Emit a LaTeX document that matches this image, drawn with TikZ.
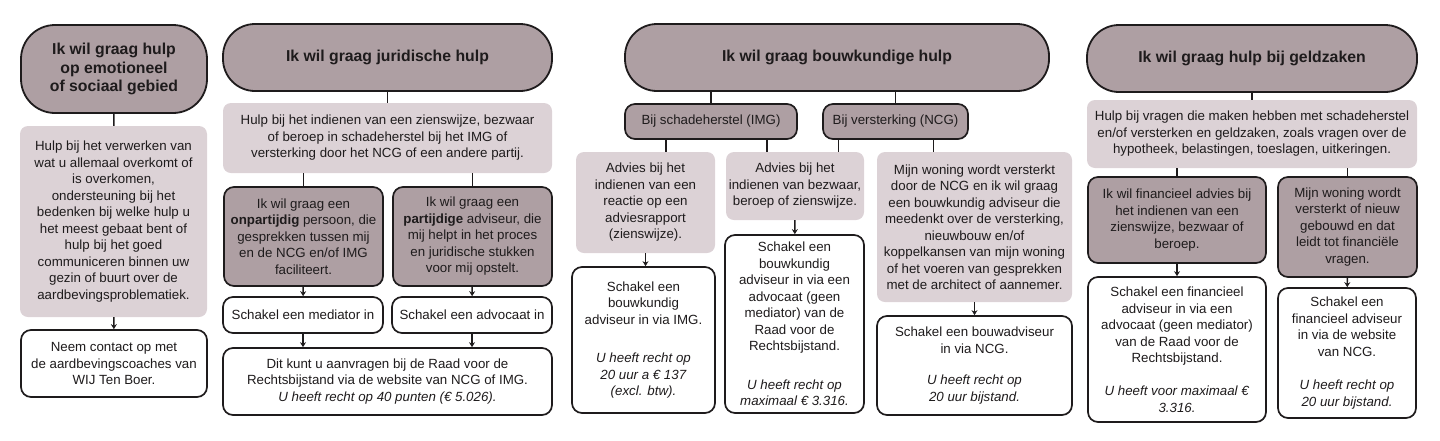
\documentclass[tikz,border=0pt]{standalone}
\usepackage{fontspec}
\setmainfont{Liberation Sans}
\usetikzlibrary{arrows.meta}
\definecolor{mauve}{RGB}{174,159,163}
\definecolor{blush}{RGB}{220,210,214}
\definecolor{ink}{RGB}{30,27,28}
\newcommand\bodyfont{\fontsize{13.3}{16.5}\selectfont}
\tikzset{
  >={Stealth[length=5pt,width=6pt]},
  wh/.style n args={2}{minimum width=#1pt,minimum height=#2pt},
  head/.style={draw=ink,fill=mauve,line width=1.8pt,rounded corners=#1,align=center,
    inner sep=0pt,text=ink,font=\fontsize{15.8}{18.5}\selectfont\bfseries},
  head/.default=32pt,
  pale/.style={fill=blush,rounded corners=8pt,align=center,inner sep=0pt,text=ink,font=\bodyfont},
  dark/.style={draw=ink,fill=mauve,line width=1.7pt,rounded corners=10pt,align=center,
    inner sep=0pt,text=ink,font=\bodyfont},
  plain/.style={draw=ink,fill=white,line width=1.7pt,rounded corners=10pt,align=center,
    inner sep=0pt,text=ink,font=\bodyfont},
  link/.style={draw=ink,line width=1.4pt},
  flow/.style={link,->},
}
\begin{document}
\begin{tikzpicture}[x=1pt,y=-1pt]
\useasboundingbox (0,0) rectangle (1440,440);
% emotioneel / sociaal
\node[head=34pt,wh={186}{88}] (eh) at (114,69) {Ik wil graag hulp\\op emotioneel\\of sociaal gebied};
\node[pale,wh={187}{191}] (el) at (113.5,221.5) {Hulp bij het verwerken van\\wat u allemaal overkomt of\\is overkomen,\\ondersteuning bij het\\bedenken bij welke hulp u\\het meest gebaat bent of\\hulp bij het goed\\communiceren binnen uw\\gezin of buurt over de\\aardbevingsproblematiek.};
\node[plain,wh={186}{67}] (ew) at (114,363.5) {Neem contact op met\\de aardbevingscoaches van\\WIJ Ten Boer.};
\draw[link] (eh) -- (el);
\draw[flow] (el) -- (ew);
% juridisch
\node[head,wh={329}{67}] (jh) at (387.5,57.5) {Ik wil graag juridische hulp};
\node[pale,wh={329}{70}] (jl) at (387.5,138) {Hulp bij het indienen van een zienswijze, bezwaar\\of beroep in schadeherstel bij het IMG of\\versterking door het NCG of een andere partij.};
\node[dark,wh={159}{99}] (jd1) at (303.5,236.5) {Ik wil graag een\\\textbf{onpartijdig} persoon, die\\gesprekken tussen mij\\en de NCG en/of IMG\\faciliteert.};
\node[dark,wh={159}{99}] (jd2) at (472.5,236.5) {Ik wil graag een\\\textbf{partijdige} adviseur, die\\mij helpt in het proces\\en juridische stukken\\voor mij opstelt.};
\node[plain,wh={160}{36}] (jw1) at (303,315) {Schakel een mediator in};
\node[plain,wh={160}{36}] (jw2) at (472,315) {Schakel een advocaat in};
\node[plain,wh={329}{67}] (jw3) at (387.5,381.5) {Dit kunt u aanvragen bij de Raad voor de\\Rechtsbijstand via de website van NCG of IMG.\\\textit{U heeft recht op 40 punten (€ 5.026).}};
\draw[link] (jh) -- (jl);
\draw[link] (jl.south -| jd1.north) -- (jd1.north);
\draw[link] (jl.south -| jd2.north) -- (jd2.north);
\draw[flow] (jd1) -- (jw1);
\draw[flow] (jd2) -- (jw2);
\draw[flow] (jw1.south) -- (jw1.south |- jw3.north);
\draw[flow] (jw2.south) -- (jw2.south |- jw3.north);
% bouwkundig
\node[head,wh={424}{67}] (bh) at (837,57.5) {Ik wil graag bouwkundige hulp};
\node[dark,wh={172}{35}] (bs) at (711,121.5) {Bij schadeherstel (IMG)};
\node[dark,wh={145}{35}] (bv) at (895.5,121.5) {Bij versterking (NCG)};
\node[pale,wh={139}{101}] (ba1) at (645.5,202.5) {Advies bij het\\indienen van een\\reactie op een\\adviesrapport\\(zienswijze).};
\node[pale,wh={138}{68}] (ba2) at (795,186) {Advies bij het\\indienen van bezwaar,\\beroep of zienswijze.};
\node[pale,wh={195}{150}] (ba3) at (974.5,227) {Mijn woning wordt versterkt\\door de NCG en ik wil graag\\een bouwkundig adviseur die\\meedenkt over de versterking,\\nieuwbouw en/of\\koppelkansen van mijn woning\\of het voeren van gesprekken\\met de architect of aannemer.};
\node[plain,wh={143}{146}] (bw1) at (643.5,340) {Schakel een\\bouwkundig\\adviseur in via IMG.\\[22pt]\textit{U heeft recht op}\\\textit{20 uur a € 137}\\\textit{(excl. btw).}};
\node[plain,wh={139}{178}] (bw2) at (794.5,324) {Schakel een\\bouwkundig\\adviseur in via een\\advocaat (geen\\mediator) van de\\Raad voor de\\Rechtsbijstand.\\[22pt]\textit{U heeft recht op}\\\textit{maximaal € 3.316.}};
\node[plain,wh={195}{99}] (bw3) at (974.5,365.5) {Schakel een bouwadviseur\\in via NCG.\\[15pt]\textit{U heeft recht op}\\\textit{20 uur bijstand.}};
\draw[link] (bh.south -| bs.north) -- (bs.north);
\draw[link] (bh.south -| bv.north) -- (bv.north);
\draw[link] ([xshift=-45pt]bs.south) -- ([xshift=-45pt]bs.south |- ba1.north);
\draw[link] ([xshift=56pt]bs.south) -- ([xshift=56pt]bs.south |- ba2.north);
\draw[link] ([xshift=-57pt]bv.south) -- ([xshift=-57pt]bv.south |- ba2.north);
\draw[link] ([xshift=38pt]bv.south) -- ([xshift=38pt]bv.south |- ba3.north);
\draw[flow] (ba1.south) -- (ba1.south |- bw1.north);
\draw[flow] (ba2) -- (bw2);
\draw[flow] (ba3) -- (bw3);
% geldzaken
\node[head,wh={330}{67}] (gh) at (1252,58.5) {Ik wil graag hulp bij geldzaken};
\node[pale,wh={330}{68}] (gl) at (1252,134) {Hulp bij vragen die maken hebben met schadeherstel\\en/of versterken en geldzaken, zoals vragen over de\\hypotheek, belastingen, toeslagen, uitkeringen.};
\node[dark,wh={178}{86}] (gd1) at (1177,220) {Ik wil financieel advies bij\\het indienen van een\\zienswijze, bezwaar of\\beroep.};
\node[dark,wh={139}{100}] (gd2) at (1347.5,227) {Mijn woning wordt\\versterkt of nieuw\\gebouwd en dat\\leidt tot financiële\\vragen.};
\node[plain,wh={178}{145}] (gw1) at (1177,349.5) {Schakel een financieel\\adviseur in via een\\advocaat (geen mediator)\\van de Raad voor de\\Rechtsbijstand.\\[16.5pt]\textit{U heeft voor maximaal €}\\\textit{3.316.}};
\node[plain,wh={138}{130}] (gw2) at (1347,353) {Schakel een\\financieel adviseur\\in via de website\\van NCG.\\[17pt]\textit{U heeft recht op}\\\textit{20 uur bijstand.}};
\draw[link] (gh) -- (gl);
\draw[link] (gl.south -| gd1.north) -- (gd1.north);
\draw[link] (gl.south -| gd2.north) -- (gd2.north);
\draw[flow] (gd1) -- (gw1);
\draw[flow] (gd2) -- (gw2);
\end{tikzpicture}
\end{document}
